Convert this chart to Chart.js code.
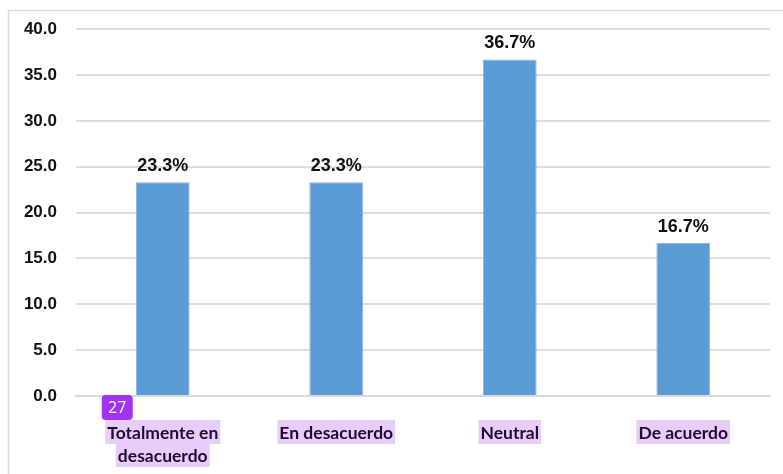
<!DOCTYPE html>
<html lang="es">
<head>
<meta charset="utf-8">
<script src="https://cdn.jsdelivr.net/npm/chart.js@4"></script>
<style>
  html, body { margin: 0; padding: 0; background: #fff; }
  #wrap { width: 783px; height: 474px; }
</style>
</head>
<body>
<div id="wrap"><canvas id="grafico" width="783" height="474"></canvas></div>
<script>
// Respuestas por categoría (%)
const categorias = ["Totalmente en|desacuerdo", "En desacuerdo", "Neutral", "De acuerdo"];
const porcentajes = [23.3, 23.3, 36.7, 16.7];
const ticksY = [0, 5, 10, 15, 20, 25, 30, 35, 40];
const numeroPagina = "27";

// marco, etiquetas de valor y etiquetas de categoría resaltadas
const decoraciones = {
  id: "decoraciones",
  beforeDraw(chart) {
    const c = chart.ctx;
    c.save();
    c.strokeStyle = "#dcdcdc";
    c.lineWidth = 1.5;
    c.beginPath();
    c.moveTo(8.5, chart.height + 5);
    c.lineTo(8.5, 10.5);
    c.lineTo(chart.width + 5, 10.5);
    c.stroke();
    c.restore();
  },
  afterDraw(chart) {
    const c = chart.ctx;
    const meta = chart.getDatasetMeta(0);
    const xScale = chart.scales.x;
    const base = chart.chartArea.bottom;
    c.save();

    // valores encima de las barras
    c.font = "bold 18px 'Liberation Sans', Arial, sans-serif";
    c.fillStyle = "#111";
    c.textAlign = "center";
    c.textBaseline = "alphabetic";
    meta.data.forEach((bar, i) => {
      c.fillText(porcentajes[i].toFixed(1) + "%", bar.x, bar.y - 11);
    });

    // categorías con fondo resaltado
    c.font = "bold 17.5px Lato, 'Open Sans', sans-serif";
    c.textBaseline = "middle";
    categorias.forEach((cat, i) => {
      const xc = xScale.getPixelForTick(i);
      cat.split("|").forEach((linea, j) => {
        const yc = base + 36 + j * 23;
        const w = c.measureText(linea).width + 4;
        c.fillStyle = "#e8cdfb";
        c.fillRect(xc - w / 2, yc - 12, w, 24);
        c.fillStyle = "#240933";
        c.fillText(linea, xc, yc + 1);
      });
    });

    // número de página
    const x0 = xScale.getPixelForTick(0) - 61;
    c.fillStyle = "#a033f5";
    c.beginPath();
    c.roundRect(x0, base - 1, 31, 25, 4);
    c.fill();
    c.fillStyle = "#fff";
    c.font = "16px 'Open Sans', sans-serif";
    c.textAlign = "center";
    c.fillText(numeroPagina, x0 + 15.5, base + 12);
    c.restore();
  }
};

new Chart(document.getElementById("grafico"), {
  type: "bar",
  data: {
    labels: categorias,
    datasets: [{
      data: porcentajes,
      backgroundColor: "#5b9bd5",
      borderColor: "#86b6e3",
      borderWidth: 1,
      barPercentage: 0.31,
      categoryPercentage: 1
    }]
  },
  options: {
    responsive: false,
    animation: false,
    layout: { padding: { left: 0, right: 13, top: 28, bottom: 0 } },
    plugins: { legend: { display: false }, tooltip: { enabled: false } },
    scales: {
      x: {
        ticks: { display: false },
        grid: { display: false },
        border: { color: "#d9d9d9", width: 2 },
        afterFit: (s) => { s.height = 78; }
      },
      y: {
        min: 0,
        max: 40,
        afterBuildTicks: (s) => { s.ticks = ticksY.map((v) => ({ value: v })); },
        afterFit: (s) => { s.width = 76; },
        ticks: {
          padding: 19,
          color: "#111",
          font: { family: "'Liberation Sans', Arial, sans-serif", size: 17, weight: "bold" },
          callback: (v) => v.toFixed(1)
        },
        grid: { color: "#dedede", lineWidth: 2, drawTicks: false },
        border: { display: false }
      }
    }
  },
  plugins: [decoraciones]
});
</script>
</body>
</html>
